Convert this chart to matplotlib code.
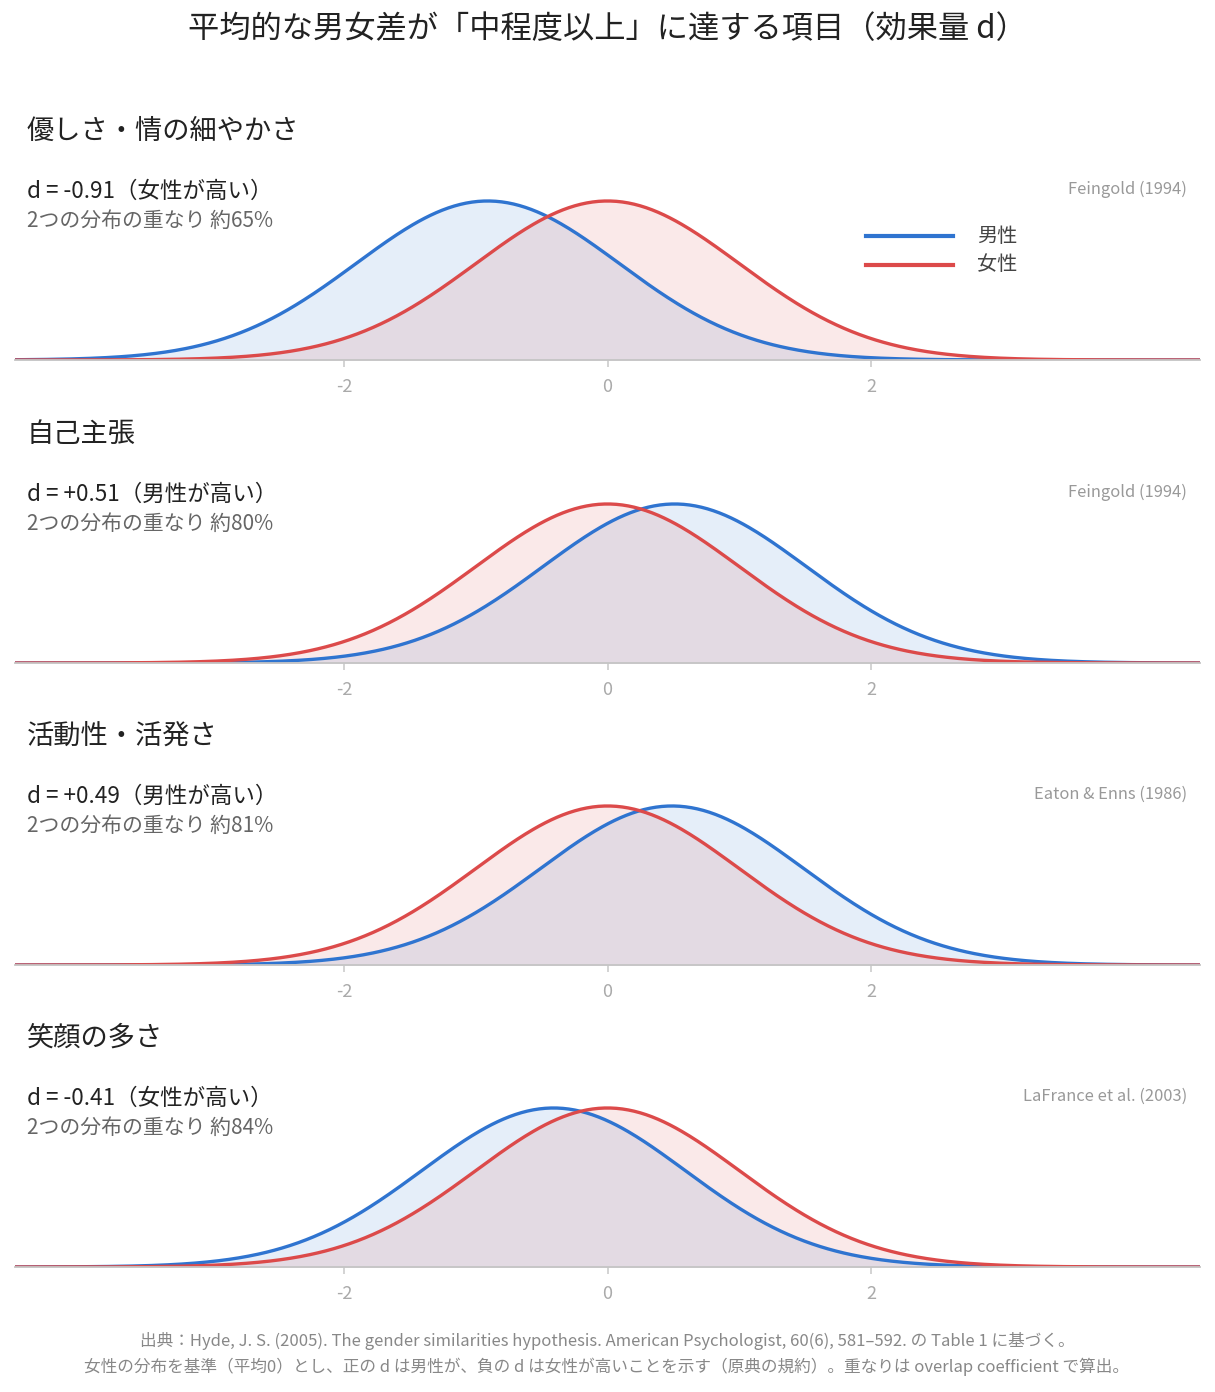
import numpy as np
import matplotlib
matplotlib.use("Agg")
import matplotlib.pyplot as plt
from matplotlib.lines import Line2D

plt.rcParams['font.family'] = ['Noto Sans CJK JP', 'DejaVu Sans']

# data
titles = ["優しさ・情の細やかさ", "自己主張", "活動性・活発さ", "笑顔の多さ"]
d_values = [-0.91, 0.51, 0.49, -0.41]
d_labels = ["-0.91", "+0.51", "+0.49", "-0.41"]
higher = ["女性が高い", "男性が高い", "男性が高い", "女性が高い"]
overlap_pct = [65, 80, 81, 84]
sources = ["Feingold (1994)", "Feingold (1994)", "Eaton & Enns (1986)", "LaFrance et al. (2003)"]
tick_vals = [-2, 0, 2]

W, H = 1215, 1392
BLUE = "#2f74d0"
RED = "#dc4a4a"

def fx(px):
    return px / W

def fy(py):
    return 1 - py / H

def pdf(x, mu):
    return np.exp(-0.5 * (x - mu) ** 2) / np.sqrt(2 * np.pi)

fig = plt.figure(figsize=(W / 100, H / 100), dpi=100)

fig.text(fx(607), fy(29), "平均的な男女差が「中程度以上」に達する項目（効果量 d）",
         ha="center", va="center", fontsize=22.5, color="#222222")

baselines = [360, 663, 965, 1267]
ax_h = 180
x = np.linspace(-4.5, 4.5, 600)

for i in range(4):
    b = baselines[i]
    ax = fig.add_axes([fx(15), fy(b), fx(1200) - fx(15), ax_h / H])
    male = pdf(x, d_values[i])
    female = pdf(x, 0)
    ax.fill_between(x, male, color=BLUE, alpha=0.12, lw=0)
    ax.fill_between(x, female, color=RED, alpha=0.12, lw=0)
    ax.plot(x, male, color=BLUE, lw=2.4, solid_capstyle="round")
    ax.plot(x, female, color=RED, lw=2.4, solid_capstyle="round")
    ax.set_xlim(-4.5, 4.5)
    ax.set_ylim(0, 0.3989 * ax_h / 159)
    for s in ["top", "left", "right"]:
        ax.spines[s].set_visible(False)
    ax.spines["bottom"].set_color("#c4c4c4")
    ax.spines["bottom"].set_linewidth(1.3)
    ax.set_yticks([])
    ax.set_xticks(tick_vals)
    ax.set_xticklabels([str(t) for t in tick_vals])
    ax.tick_params(axis="x", colors="#cccccc", labelcolor="#aaaaaa", length=5,
                   width=1.2, labelsize=13, pad=8)
    ax.patch.set_alpha(0)

    off = b - 360
    fig.text(fx(27), fy(131 + off), titles[i], ha="left", va="center",
             fontsize=19.6, color="#222222")
    fig.text(fx(27), fy(191 + off), "d = " + d_labels[i] + "（" + higher[i] + "）",
             ha="left", va="center", fontsize=16.2, color="#222222")
    fig.text(fx(27), fy(221 + off), "2つの分布の重なり 約" + str(overlap_pct[i]) + "%",
             ha="left", va="center", fontsize=15, color="#666666")
    fig.text(fx(1187), fy(189 + off), sources[i], ha="right", va="center",
             fontsize=11.9, color="#999999")

# legend in first panel
for yy, col, lab in [(236, BLUE, "男性"), (265, RED, "女性")]:
    fig.add_artist(Line2D([fx(866), fx(953)], [fy(yy), fy(yy)], color=col, lw=3))
    fig.text(fx(977), fy(yy), lab, ha="left", va="center", fontsize=14.5, color="#444444")

fig.text(fx(607), fy(1341),
         "出典：Hyde, J. S. (2005). The gender similarities hypothesis. American Psychologist, 60(6), 581–592. の Table 1 に基づく。",
         ha="center", va="center", fontsize=12, color="#888888")
fig.text(fx(607), fy(1367),
         "女性の分布を基準（平均0）とし、正の d は男性が、負の d は女性が高いことを示す（原典の規約）。重なりは overlap coefficient で算出。",
         ha="center", va="center", fontsize=12, color="#888888")

fig.savefig("out.png", dpi=100, facecolor="white")
